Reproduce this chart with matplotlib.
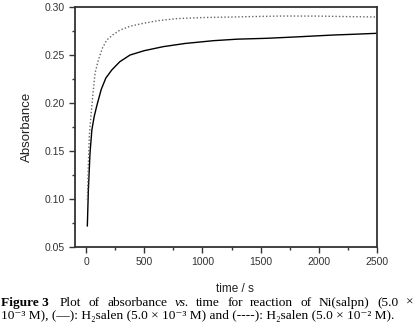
import matplotlib
matplotlib.use('Agg')
from matplotlib import pyplot as plt
from matplotlib.ticker import MultipleLocator

# solid: 5.0e-3 M H2salen
t_solid = [11, 20, 34, 50, 70, 92, 130, 170, 221, 290, 378, 500, 663, 850, 1093, 1300, 1553, 1800, 2122, 2300, 2500]
a_solid = [0.072, 0.110, 0.148, 0.172, 0.186, 0.197, 0.214, 0.226, 0.2344, 0.243, 0.250, 0.2545, 0.2587, 0.262, 0.2649, 0.2665, 0.2674, 0.2688, 0.2708, 0.2716, 0.2726]

# dotted: 5.0e-2 M H2salen
t_dot = [11, 20, 28, 40, 57, 77, 106, 140, 178, 230, 292, 380, 492, 620, 779, 1000, 1266, 1500, 1693, 2000, 2250, 2500]
a_dot = [0.099, 0.137, 0.165, 0.184, 0.2066, 0.231, 0.2448, 0.257, 0.2656, 0.271, 0.276, 0.280, 0.283, 0.2858, 0.2879, 0.289, 0.2896, 0.2902, 0.2906, 0.2905, 0.2900, 0.2896]

caption1 = [('Figure 3', 'bold', 'normal'), ('Plot', 'normal', 'normal'), ('of', 'normal', 'normal'),
            ('absorbance', 'normal', 'normal'), ('vs.', 'normal', 'italic'), ('time', 'normal', 'normal'),
            ('for', 'normal', 'normal'), ('reaction', 'normal', 'normal'), ('of', 'normal', 'normal'),
            ('Ni(salpn)', 'normal', 'normal'), ('(5.0', 'normal', 'normal'), ('×', 'normal', 'normal')]
caption2 = '10⁻³ M), (—): H₂salen (5.0 × 10⁻³ M) and (----): H₂salen (5.0 × 10⁻² M).'

fig = plt.figure(figsize=(4.14, 3.35), dpi=100)
ax = fig.add_axes([75/414, 1 - 247/335, (377-75)/414, (247-7)/335])

ax.plot(t_solid, a_solid, color='black', lw=1.0)
ax.plot(t_dot, a_dot, color='#666666', lw=1.0, ls=(0, (1, 1.5)))

ax.set_xlim(-95, 2500)
ax.set_ylim(0.05, 0.30)
ax.xaxis.set_major_locator(MultipleLocator(500))
ax.xaxis.set_minor_locator(MultipleLocator(250))
ax.yaxis.set_major_locator(MultipleLocator(0.05))
ax.yaxis.set_minor_locator(MultipleLocator(0.025))
ax.yaxis.set_major_formatter(plt.FormatStrFormatter('%.2f'))
ax.tick_params(which='major', direction='out', length=4, width=1, colors='#333333',
               labelsize=7.5, labelcolor='#333333')
ax.tick_params(which='minor', direction='out', length=2.5, width=1, colors='#333333')
for lab in ax.get_xticklabels() + ax.get_yticklabels():
    lab.set_family('Liberation Sans')
for s in ax.spines.values():
    s.set_linewidth(1.3)
    s.set_color('#333333')

ax.set_xlabel('time / s', family='Liberation Sans', fontsize=8.5, color='#222222')
ax.set_ylabel('Absorbance', family='Liberation Sans', fontsize=9.5, color='#222222')
ax.xaxis.set_label_coords((235-75)/302, -(283-247)/240)
ax.yaxis.set_label_coords(-(75-33)/302, 0.5)

fs = 9.6
serif = ['Liberation Serif', 'DejaVu Serif']
y1 = 1 - 306/335
y2 = 1 - 319/335

# first caption line is justified across the full width
renderer = fig.canvas.get_renderer()
texts = [fig.text(0, y1, w, family=serif, weight=wt, style=st, fontsize=fs, va='baseline', ha='left')
         for w, wt, st in caption1]
widths = [t.get_window_extent(renderer).width for t in texts]
extra = 4
gap = (412 - sum(widths) - extra) / (len(texts) - 1)
x = 1
for i, (t, w) in enumerate(zip(texts, widths)):
    t.set_x(x / 414)
    x += w + gap + (extra if i == 0 else 0)

fig.text(1/414, y2, caption2, family=serif, fontsize=fs, va='baseline', ha='left')

fig.savefig('out.png', dpi=100)
